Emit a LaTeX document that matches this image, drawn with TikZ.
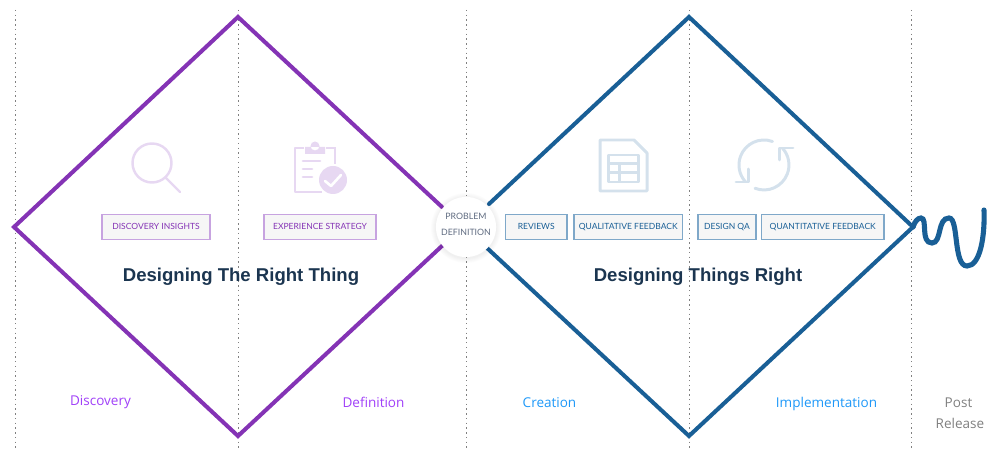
\documentclass[tikz,border=0pt]{standalone}
\usepackage{fontspec}
\setmainfont{Lato}
\newfontfamily\titlefont{Liberation Sans}
\newfontfamily\phasefont{Open Sans}
\usetikzlibrary{arrows.meta,positioning,calc}
\definecolor{DiaPurple}{HTML}{8433B5}
\definecolor{DiaBlue}{HTML}{195F96}
\definecolor{IconPurple}{HTML}{E7D8F2}
\definecolor{IconBlue}{HTML}{D4E1EC}
\definecolor{TagPurple}{HTML}{C7A3E0}
\definecolor{TagBlue}{HTML}{7FA8C9}
\definecolor{TagFill}{HTML}{F6F6F6}
\definecolor{TitleInk}{HTML}{1B3550}
\definecolor{PhasePurple}{HTML}{A040F8}
\definecolor{PhaseBlue}{HTML}{1E98F8}
\definecolor{CircleInk}{HTML}{5F6B80}
\tikzset{
  guide/.style={line width=0.55pt, dash pattern=on 0.8pt off 1.9pt, black!50},
  diamond line/.style={line width=2.3pt, line cap=round, line join=miter},
  tag/.style={draw, line width=0.6pt, fill=TagFill, inner sep=0pt, minimum height=13.7pt, text height=3.4pt, text depth=0pt, font=\fontsize{4.85}{6}\selectfont},
  purple tag/.style={tag, draw=TagPurple, text=DiaPurple},
  blue tag/.style={tag, draw=TagBlue, text=DiaBlue},
  title text/.style={font=\titlefont\bfseries\fontsize{10.57}{12}\selectfont, text=TitleInk},
  phase text/.style={anchor=base, font=\phasefont\fontsize{7.7}{12}\selectfont},
}
\begin{document}
\begin{tikzpicture}[x=0.02cm, y=-0.02cm]
\useasboundingbox (0,0) rectangle (1000,455);

% Dotted phase guides
\foreach \x in {15,238,466,689,911}
  \draw[guide] (\x,10) -- (\x,448);

% Corner points of the two diamonds
\coordinate (leftW) at (14,227);
\coordinate (leftN) at (238,17);
\coordinate (leftS) at (238,436);
\coordinate (leftNE) at (442,207);
\coordinate (leftSE) at (443,245);
\coordinate (rightN) at (689,17);
\coordinate (rightS) at (689,436);
\coordinate (rightE) at (913,227);
\coordinate (rightNW) at (489,204);
\coordinate (rightSW) at (487,248);

% Diamonds
\draw[diamond line, DiaPurple] (leftNE) -- (leftN) -- (leftW) -- (leftS) -- (leftSE);
\draw[diamond line, DiaBlue] (rightNW) -- (rightN) -- (rightE) -- (rightS) -- (rightSW);

% Squiggle leaving the right corner
\draw[line width=2.9pt, line cap=round, DiaBlue] (rightE)
  .. controls (915,221) and (918,218) .. (921,218)
  .. controls (928,218) and (920,243) .. (932,243)
  .. controls (942,243) and (937,218) .. (949,218)
  .. controls (959,218) and (953,266) .. (967,266)
  .. controls (980,266) and (985,237) .. (984,210);

% Circle in the middle, soft shadow first
\foreach \r in {35,34,33,32,31}
  \fill[black, opacity=0.012] (466,228) circle (\r);
\node[circle, fill=white, minimum size=34.2pt, inner sep=0pt] (problem) at (466,227) {};
\node[font=\fontsize{5}{9.1}\selectfont, align=center, text=CircleInk] (problemText) at (466,224.5) {PROBLEM\\DEFINITION};

% Magnifier icon
\draw[IconPurple, line width=1.4pt, line cap=round] (152,163) circle (19.5) (166,178) -- (180,192);

% Clipboard icon
\draw[IconPurple, line width=1.6pt, line join=round]
  (304,148) -- (295,148) -- (295,192) -- (322,192);
\draw[IconPurple, line width=1.6pt] (326,148) -- (335,148) -- (335,164);
\fill[IconPurple] (305,147) rectangle (325,154) (315,146) circle (4.5);
\draw[IconPurple, line width=1.6pt, line cap=round] (303,161) -- (320,161) (303,169) -- (312,169) (303,177) -- (312,177);
\fill[IconPurple] (333,180) circle (14);
\draw[white, line width=1.5pt, line cap=round, line join=round] (325,181) -- (331,186) -- (341,175);

% Table icon
\draw[IconBlue, line width=1.7pt, line join=round] (602,140) -- (634,140) -- (647,153) -- (647,191) -- (600,191) -- (600,140) -- cycle;
\draw[IconBlue, line width=1.7pt, line join=round] (608,155) rectangle (638,182) (608,163.5) -- (638,163.5) (608,172.5) -- (638,172.5) (619,163.5) -- (619,182);

% Refresh icon
\draw[IconBlue, line width=1.7pt, line cap=round] (772.5,141.5) arc[start angle=-70, end angle=-222, radius=25];
\draw[IconBlue, line width=1.7pt, line cap=round] (755,188.3) arc[start angle=-249, end angle=-402, radius=25];
\draw[IconBlue, line width=1.7pt, line cap=round, line join=round] (736,182) -- (748,182) -- (748,169);
\draw[IconBlue, line width=1.7pt, line cap=round, line join=round] (793,148) -- (779,148) -- (779,160);

% Tags
\foreach \name/\xa/\xb/\txt/\sty in {
  insights/102/210/DISCOVERY INSIGHTS/purple tag,
  strategy/264/376/EXPERIENCE STRATEGY/purple tag,
  reviews/505.5/567/REVIEWS/blue tag,
  qualitative/574/682.5/QUALITATIVE FEEDBACK/blue tag,
  designqa/698/756/DESIGN QA/blue tag,
  quantitative/761.5/884/QUANTITATIVE FEEDBACK/blue tag}
{
  \node[\sty, minimum width={(\xb-\xa)*0.02cm}] (\name) at ({(\xa+\xb)/2},227) {\txt};
}

% Titles
\node[title text] (titleLeft) at (241,276.5) {Designing The Right Thing};
\node[title text] (titleRight) at (698,276.5) {Designing Things Right};

% Phase names
\node[phase text, text=PhasePurple] (discovery) at (100.5,406) {Discovery};
\node[phase text, text=PhasePurple] (definition) at (373.5,407.7) {Definition};
\node[phase text, text=PhaseBlue] (creation) at (549.5,407.7) {Creation};
\node[phase text, text=PhaseBlue] (implementation) at (826.5,407.7) {Implementation};
\node[phase text, text=black!50] (post) at (958.5,407.7) {Post};
\node[phase text, text=black!50] (release) at (960,428.7) {Release};
\end{tikzpicture}
\end{document}
